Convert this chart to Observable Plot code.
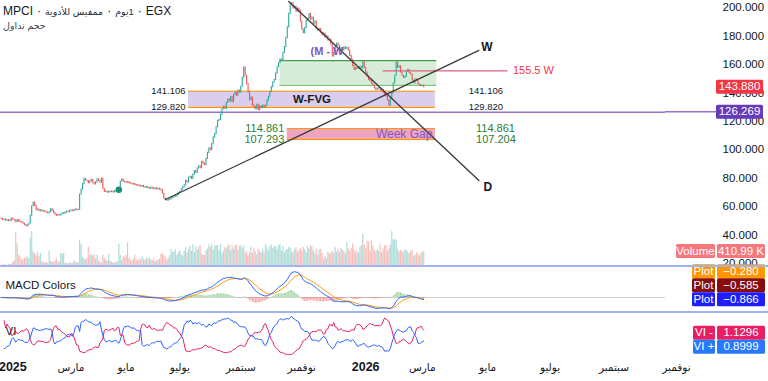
<!DOCTYPE html>
<html><head><meta charset="utf-8">
<script src="https://cdn.jsdelivr.net/npm/d3@7"></script>
<script src="https://cdn.jsdelivr.net/npm/@observablehq/plot@0.6"></script>
<style>
body{margin:0;background:#fff;font-family:"Liberation Sans",Arial,"DejaVu Sans",sans-serif;}
#wrap{position:relative;width:768px;height:381px;overflow:hidden;background:#fff;}
.pane{position:absolute;left:0;}
.pane svg{display:block;background:transparent !important;max-width:none !important;}
.sep{position:absolute;left:0;width:768px;height:2px;background:#9fb3f4;}
#title{position:absolute;left:3px;top:4px;font-size:12px;color:#131722;white-space:nowrap;display:flex;align-items:baseline;gap:4px;}
#title span{display:inline-block;}
#title .ar{font-size:9.5px;color:#2a2e39;}
#sub{position:absolute;left:3px;top:20px;font-size:9.5px;color:#434651;}
</style></head>
<body><div id="wrap">
<div id="title"><span>MPCI</span><span>·</span><span class="ar" dir="rtl">ممفيس للأدوية</span><span>·</span><span class="ar" dir="rtl">1يوم</span><span>·</span><span>EGX</span></div>
<div id="sub"><span dir="rtl" style="display:inline-block">حجم تداول</span></div>
</div>
<script>
// ---------- data ----------
const startDate = "2024-12-22";
const holidays = ["2025-01-07","2025-01-30","2025-03-30","2025-03-31","2025-04-01","2025-04-02","2025-04-21","2025-04-24","2025-05-01","2025-06-05","2025-06-08","2025-06-09","2025-06-10","2025-06-26","2025-07-03","2025-07-24","2025-09-04","2025-10-09","2026-01-07","2026-01-25"];

const closes = [
51.2,50.6,50.9,50.1,50.4,49.8,50.3,51.5,50.7,50.2,
49.0,50.5,49.6,49.0,48.8,47.9,47.0,46.2,46.8,48.1,
53.5,60.2,62.8,60.5,57.4,57.9,56.8,57.3,56.6,56.9,
56.2,55.8,55.2,56.0,58.1,57.0,55.6,54.2,53.5,54.0,
53.8,54.4,55.3,55.0,55.9,56.4,56.0,56.8,57.2,56.7,
57.5,57.9,57.4,57.8,68.5,72.0,75.8,79.6,78.3,77.9,
76.5,77.8,78.9,76.4,75.5,77.0,79.2,78.0,76.8,79.5,
72.4,70.2,70.6,69.8,70.4,70.1,70.5,70.0,70.8,70.6,
71.0,71.4,77.5,79.0,77.6,77.0,76.8,77.2,76.5,76.1,
75.6,75.9,75.2,74.6,75.0,74.4,73.9,74.5,73.6,73.2,
73.8,73.0,72.6,73.4,72.8,72.3,72.9,72.1,72.5,71.9,
71.6,69.0,65.8,64.6,64.1,65.2,64.8,66.0,66.6,67.3,
67.0,68.2,69.5,70.4,72.1,73.5,75.0,78.2,77.0,80.3,
81.0,79.4,82.5,85.0,83.6,86.8,88.4,87.0,91.5,90.2,
89.1,93.5,97.8,101.0,99.6,104.2,108.5,111.0,115.8,120.3,
121.0,124.6,128.4,130.1,128.6,132.8,135.2,134.0,137.1,133.4,
138.5,140.2,137.9,141.6,140.0,144.3,150.5,157.8,152.0,146.1,
140.5,134.8,136.6,131.2,130.0,128.4,131.5,127.8,130.6,129.2,
131.0,129.6,130.8,134.5,137.2,140.6,144.0,147.3,149.1,153.5,
158.0,160.8,163.4,162.5,168.0,172.2,178.6,186.0,195.5,201.8,
203.0,199.4,200.6,197.0,199.2,197.8,190.2,184.5,182.0,185.6,
190.8,192.0,195.4,191.5,193.0,188.6,190.2,185.0,183.6,184.8,
182.2,180.5,181.6,179.0,179.8,176.9,177.5,173.8,165.5,168.2,
172.4,174.6,173.2,170.0,171.4,169.6,172.0,170.8,171.6,169.8,
166.0,163.1,158.8,156.0,157.4,156.8,157.6,158.3,157.2,161.5,
157.5,154.2,151.4,149.0,148.2,146.3,145.1,143.0,141.8,142.9,
143.4,141.5,142.2,140.1,138.8,137.2,134.5,131.0,135.6,139.8,
146.5,152.0,161.2,157.5,158.6,154.3,152.0,150.5,151.2,155.0,
156.2,153.8,152.9,148.5,146.8,149.4,148.6,146.0,145.2,144.6,144.9,143.88
];
const firstOpen = 51.6;

// volume, thousands of shares
const volumes = [
40,35,50,45,30,60,55,70,120,150,
950,620,300,260,200,180,220,240,260,210,
780,970,400,360,300,380,260,360,140,110,
100,120,90,420,140,130,110,160,210,120,
130,360,330,360,90,80,70,100,90,80,
160,120,110,90,730,600,250,200,180,220,
520,300,340,280,320,200,310,150,110,100,
310,220,180,140,340,150,120,100,90,120,
140,620,300,160,280,240,300,650,220,180,
140,200,310,180,160,210,180,260,200,170,
230,190,240,180,150,210,140,160,180,200,
340,360,300,250,180,230,300,470,380,410,
460,300,380,440,320,280,420,520,380,460,
560,420,600,380,550,460,520,580,340,300,
310,420,480,600,520,620,450,560,580,570,
440,600,350,420,520,480,560,600,430,580,
470,570,590,440,560,580,500,560,380,420,
300,390,520,360,480,400,330,470,420,380,
460,380,600,520,430,560,590,500,560,540,
470,580,600,420,560,380,440,470,520,500,
400,380,470,520,390,440,500,420,520,460,
380,560,480,570,540,420,360,470,300,460,
470,360,200,280,220,400,330,380,420,360,
520,400,470,380,500,440,420,360,650,480,
420,500,620,460,380,420,360,520,580,880,
600,480,700,680,420,700,560,440,400,460,
420,620,380,480,560,580,420,500,600,960,
730,740,720,470,400,440,420,380,460,440,
400,360,420,440,260,300,380,340,290,360,400,410.99
];

const priceTicks = [20,40,60,80,100,120,140,160,180,200];
const timeTickDates = ["2025-01-01","2025-03-01","2025-05-01","2025-07-01","2025-09-01","2025-11-01","2026-01-01","2026-03-01","2026-05-01","2026-07-01","2026-09-01","2026-11-01"];
const timeTickLabels = ["2025","مارس","مايو","يوليو","سبتمبر","نوفمبر","2026","مارس","مايو","يوليو","سبتمبر","نوفمبر"];

const lastPrice = 143.880;
const levelLine = 126.269;
const fvgZone = {start:"2025-07-10", end:"2026-03-12", low:129.820, high:141.106, label:"W-FVG", rightLabels:"2026-04-14"};
const greenZone = {start:"2025-10-12", end:"2026-03-15", low:145.2, high:162.7};
const weekGap = {start:"2025-10-19", end:"2026-03-12", low:107.293, high:114.861, lowRight:107.204, label:"Week Gap", rightLabels:"2026-04-21"};
const wLevel = {start:"2026-01-20", end:"2026-05-21", price:155.5, label:"155.5 W"};
const upTrend = [{date:"2025-06-16", price:65.0},{date:"2026-04-23", price:169.8}];
const downTrend = [{date:"2025-10-20", price:204.2},{date:"2026-04-23", price:78.3}];
const mwNote = {date:"2025-11-10", price:169.0, label:"(M - W"};
const signalDot = {date:"2025-04-23", price:71.8};

const volumeLast = "410.99 K";
const macdLabels = [{name:"Plot", value:"−0.280", color:"#ff9800"},{name:"Plot", value:"−0.585", color:"#880e0e"},{name:"Plot", value:"−0.866", color:"#1e1eff"}];
const viLabels = [{name:"VI -", value:1.1296, color:"#e91e63"},{name:"VI +", value:0.8999, color:"#2979ff"}];

// ---------- calendar (Sun–Thu trading days) ----------
const hol = new Set(holidays);
const dates = [];
for (let t = Date.parse(startDate + "T00:00:00Z"); dates.length < 480; t += 86400000) {
  const d = new Date(t), wd = d.getUTCDay(), s = d.toISOString().slice(0,10);
  if (wd === 5 || wd === 6 || hol.has(s)) continue;
  dates.push(s);
}
const ix = s => d3.bisectLeft(dates, s);

const bars = closes.map((c,i) => {
  const o = i ? closes[i-1] : firstOpen;
  return {i, o, c, v: volumes[i], up: c >= o};
});

// ---------- indicators ----------
function ema(a, n){ const k = 2/(n+1); let p; return a.map((v,i) => (p = i ? v*k + p*(1-k) : v)); }
const e12 = ema(closes,12), e26 = ema(closes,26);
const macd = e12.map((v,i)=>v-e26[i]);
const sig = ema(macd,9);
const macdRows = macd.map((m,i)=>({i, m, s:sig[i], h:m-sig[i]}));

const hi = bars.map(b=>Math.max(b.o,b.c)), lo = bars.map(b=>Math.min(b.o,b.c));
const vmp=[0], vmm=[0], tr=[hi[0]-lo[0]];
for (let i=1;i<bars.length;i++){
  vmp.push(Math.abs(hi[i]-lo[i-1])); vmm.push(Math.abs(lo[i]-hi[i-1]));
  tr.push(Math.max(hi[i]-lo[i], Math.abs(hi[i]-closes[i-1]), Math.abs(lo[i]-closes[i-1])));
}
const viRows = [];
for (let i=2;i<bars.length;i++){
  const a = Math.max(1, i-13);
  const sp = d3.sum(vmp.slice(a,i+1)), sm = d3.sum(vmm.slice(a,i+1)), st = d3.sum(tr.slice(a,i+1));
  if (st>0) viRows.push({i, p: sp/st, m: sm/st});
}

// ---------- layout ----------
const W = 768, MR = 103;
const xDomain = [-0.5, 457.5];
const font = '"Liberation Sans", Arial, "DejaVu Sans", sans-serif';
const style = {background:"transparent", fontFamily: font, overflow:"visible"};
const wrap = document.getElementById("wrap");
function place(svg, top){ const d = document.createElement("div"); d.className="pane"; d.style.top = top+"px"; d.appendChild(svg); wrap.appendChild(d); return svg; }
function sep(top){ const d=document.createElement("div"); d.className="sep"; d.style.top=(top-1)+"px"; wrap.appendChild(d); }
function lin(plot, name){ const s = plot.scale(name); return d3.scaleLinear(s.domain, s.range); }
function tag(svg, x, y, w, bg, txt){
  const g = d3.select(svg).append("g");
  g.append("rect").attr("x",x).attr("y",y-7).attr("width",w).attr("height",14).attr("fill",bg).attr("rx",1.5);
  g.append("text").attr("x",x+w/2).attr("y",y+0.5).attr("dominant-baseline","middle").attr("text-anchor","middle")
   .attr("fill","#fff").attr("font-size",11.5).attr("font-family",font).text(txt);
}

const upC = "#26a69a", dnC = "#ef5350";

// ---------- main pane ----------
const fI = {s: ix(fvgZone.start), e: ix(fvgZone.end)};
const gI = {s: ix(greenZone.start), e: ix(greenZone.end)};
const wI = {s: ix(weekGap.start), e: ix(weekGap.end)};
const main = Plot.plot({
  width: W, height: 266, marginLeft: 0, marginRight: MR, marginTop: 0, marginBottom: 0,
  style,
  x: {domain: xDomain, axis: null},
  y: {domain: [17.86, 204.92], axis: null},
  marks: [
    Plot.text(priceTicks, {y: d=>d, text: d=>d.toFixed(3), frameAnchor:"right", dx: 57, textAnchor:"start", fontSize: 11.5, fill:"#131722"}),
    // zones
    Plot.rect([greenZone], {x1: ()=>gI.s, x2: ()=>gI.e, y1:"low", y2:"high", fill:"#4caf50", fillOpacity:0.22}),
    Plot.ruleY([greenZone], {y:"high", x1: ()=>gI.s, x2: ()=>gI.e, stroke:"#43a047", strokeWidth:1.2}),
    Plot.ruleY([greenZone], {y:"low", x1: ()=>gI.s, x2: ()=>gI.e, stroke:"#81c784", strokeWidth:1.2}),
    Plot.rect([fvgZone], {x1: ()=>fI.s, x2: ()=>fI.e, y1:"low", y2:"high", fill:"#b39ddb", fillOpacity:0.5}),
    Plot.ruleY([fvgZone.low, fvgZone.high], {x1: fI.s, x2: fI.e, stroke:"#ff9800", strokeWidth:1.2}),
    Plot.rect([weekGap], {x1: ()=>wI.s, x2: ()=>wI.e, y1:"low", y2:"high", fill:"#d81b60", fillOpacity:0.4}),
    Plot.ruleY([weekGap.low, weekGap.high], {x1: wI.s, x2: wI.e, stroke:"#ff9800", strokeWidth:1.1}),
    Plot.ruleY([levelLine], {stroke:"#9575cd", strokeWidth:1.5}),
    // candles
    Plot.ruleX(bars, {x:"i", y1:"o", y2:"c", stroke: d=> d.up ? upC : dnC, strokeWidth:1.1, strokeLinecap:"square"}),
    Plot.dot([signalDot], {x: d=>ix(d.date), y:"price", r:3.3, fill:"#1f8f7c"}),
    // level line
    Plot.ruleY([wLevel], {y:"price", x1: d=>ix(d.start), x2: d=>ix(d.end), stroke:"#e06080", strokeWidth:1.2}),
    Plot.text([wLevel], {x: d=>ix(d.end), y:"price", text:"label", dx:5, textAnchor:"start", fill:"#f23645", fontSize:11}),
    // trend lines
    Plot.line(upTrend, {x: d=>ix(d.date), y:"price", stroke:"#3a3a3a", strokeWidth:1.3}),
    Plot.line(downTrend, {x: d=>ix(d.date), y:"price", stroke:"#3a3a3a", strokeWidth:1.3}),
    Plot.text([upTrend[1]], {x: d=>ix(d.date), y:"price", text: ()=>"W", dx:8, dy:-3, fontWeight:"bold", fontSize:12, fill:"#131722"}),
    Plot.text([downTrend[1]], {x: d=>ix(d.date), y:"price", text: ()=>"D", dx:9, dy:7, fontWeight:"bold", fontSize:12, fill:"#131722"}),
    Plot.text([mwNote], {x: d=>ix(d.date), y:"price", text:"label", textAnchor:"start", fill:"#7e57c2", fontSize:11, fontWeight:"bold"}),
    // zone labels
    Plot.text([fvgZone], {x: ()=>(fI.s+fI.e)/2, y: d=>(d.low+d.high)/2, text:"label", fill:"#131722", fontSize:11.5, fontWeight:"bold"}),
    Plot.text([fvgZone.high, fvgZone.low], {x: fI.s, y: d=>d, text: d=>d.toFixed(3), dx:-3, textAnchor:"end", fontSize:9.5, fill:"#131722"}),
    Plot.text([fvgZone.high, fvgZone.low], {x: ix(fvgZone.rightLabels), y: d=>d, text: d=>d.toFixed(3), textAnchor:"start", fontSize:9.5, fill:"#131722"}),
    Plot.text([weekGap], {x: ()=>wI.e, y: d=>(d.low+d.high)/2, text:"label", dx:-3, textAnchor:"end", fill:"#7e57c2", fontSize:12}),
    Plot.text([weekGap.high, weekGap.low], {x: wI.s, y: d=>d, text: d=>d.toFixed(3), dx:-3, textAnchor:"end", fontSize:11, fill:"#2e7d32"}),
    Plot.text([weekGap.high, weekGap.lowRight], {x: ix(weekGap.rightLabels), y: d=>d, text: d=>d.toFixed(3), textAnchor:"start", fontSize:11, fill:"#2e7d32"})
  ]
});
place(main, 0);
{
  const y = lin(main, "y");
  d3.select(main).append("line").attr("x1",665).attr("x2",716).attr("y1",y(levelLine)).attr("y2",y(levelLine)).attr("stroke","#9575cd").attr("stroke-width",1.5);
  tag(main, 716, y(lastPrice), 47, "#f23645", lastPrice.toFixed(3));
  tag(main, 716, y(levelLine), 47, "#673ab7", levelLine.toFixed(3));
}

// ---------- volume overlay ----------
const vol = Plot.plot({
  width: W, height: 60, marginLeft: 0, marginRight: MR, marginTop: 0, marginBottom: 0,
  style,
  x: {domain: xDomain, axis: null},
  y: {domain: [0, 1650], axis: null},
  marks: [
    Plot.ruleX(bars, {x:"i", y1:0, y2:"v", stroke: d=> d.up ? upC : dnC, strokeOpacity:0.38, strokeWidth:1.2})
  ]
});
place(vol, 206);
{
  const y = lin(vol, "y");
  tag(vol, 676, y(volumes[volumes.length-1]), 39, "#f7787c", "Volume");
  tag(vol, 717, y(volumes[volumes.length-1]), 48, "#f7787c", volumeLast);
}

// ---------- MACD pane ----------
const mExt = d3.extent(macdRows.flatMap(r=>[r.m,r.s,r.h]));
const mR = mExt[1]-mExt[0];
const macdPlot = Plot.plot({
  width: W, height: 46, marginLeft: 0, marginRight: MR, marginTop: 0, marginBottom: 0,
  style,
  x: {domain: xDomain, axis: null},
  y: {domain: [mExt[0]-0.1*mR, mExt[1]+0.14*mR], axis: null},
  marks: [
    Plot.ruleY([0], {stroke:"#787b86", strokeOpacity:0.35}),
    Plot.ruleX(macdRows, {x:"i", y1:0, y2:"h", stroke: d=> d.h>=0 ? "#4caf50" : "#ef5350", strokeOpacity:0.5, strokeWidth:1.1}),
    Plot.line(macdRows, {x:"i", y:"s", stroke:"#ff9800", strokeWidth:1}),
    Plot.line(macdRows, {x:"i", y:"m", stroke:"#2962ff", strokeWidth:1}),
    Plot.text(["MACD Colors"], {text: d=>d, frameAnchor:"top-left", dx:5, dy:14, textAnchor:"start", fontSize:11.5, fill:"#131722"})
  ]
});
place(macdPlot, 266);
{
  const y = lin(macdPlot, "y");
  const base = y(macd[macd.length-1]);
  macdLabels.forEach((l,k)=>{
    const yy = base - (macdLabels.length-1-k)*14;
    tag(macdPlot, 692, yy, 23, l.color, l.name);
    tag(macdPlot, 717, yy, 48, l.color, l.value);
  });
}

// ---------- VI pane + time axis ----------
const vExt = d3.extent(viRows.flatMap(r=>[r.p,r.m]));
const vR = vExt[1]-vExt[0];
const ticks = timeTickDates.map((d,k)=>({i: ix(d), label: timeTickLabels[k], year: /^\d{4}$/.test(timeTickLabels[k])}));
const viPlot = Plot.plot({
  width: W, height: 69, marginLeft: 0, marginRight: MR, marginTop: 0, marginBottom: 24,
  style,
  x: {domain: xDomain, axis: null},
  y: {domain: [vExt[0]-0.08*vR, vExt[1]+0.1*vR], axis: null},
  marks: [
    Plot.line(viRows, {x:"i", y:"m", stroke:"#e91e63", strokeWidth:1}),
    Plot.line(viRows, {x:"i", y:"p", stroke:"#2962ff", strokeWidth:1}),
    Plot.text(["VI"], {text: d=>d, frameAnchor:"top-left", dx:5, dy:14, textAnchor:"start", fontSize:11.5, fill:"#131722"}),
    Plot.text(ticks.filter(t=>t.year), {x:"i", text:"label", frameAnchor:"bottom", dy:13, fontSize:12.5, fontWeight:"bold", fill:"#131722"}),
    Plot.text(ticks.filter(t=>!t.year), {x:"i", text:"label", frameAnchor:"bottom", dy:13, fontSize:10.5, fill:"#131722"})
  ]
});
place(viPlot, 312);
{
  const y = lin(viPlot, "y");
  // stack labels so they never overlap (as the chart's price scale does)
  const ys = viLabels.map(l=>y(l.value));
  for (let k=1;k<ys.length;k++) if (ys[k] < ys[k-1]+14) ys[k] = ys[k-1]+14;
  const shift = Math.max(0, ys[ys.length-1] - 50);
  viLabels.forEach((l,k)=>{
    const yy = ys[k] - shift;
    tag(viPlot, 693, yy, 22, l.color, l.name);
    tag(viPlot, 717, yy, 48, l.color, l.value.toFixed(4));
  });
}
sep(266); sep(312);
wrap.appendChild(document.getElementById("title"));
wrap.appendChild(document.getElementById("sub"));
</script>
</body></html>
